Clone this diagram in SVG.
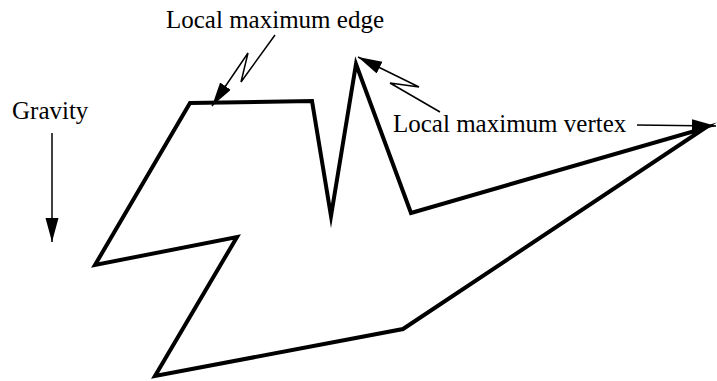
<svg xmlns="http://www.w3.org/2000/svg" width="717" height="381" viewBox="0 0 717 381">
<style>
.lbl{font-family:"Liberation Serif","Times New Roman",serif;font-size:25px;fill:#000}
.shape{fill:none;stroke:#000;stroke-width:4;stroke-linejoin:miter;stroke-miterlimit:10}
.arr{fill:none;stroke:#000;stroke-width:1.5}
</style>
<defs>
<marker id="ah" markerUnits="userSpaceOnUse" markerWidth="24" markerHeight="14" refX="24" refY="6.5" orient="auto">
<path d="M0,0 L24,6.5 L0,13 z" fill="#000"/>
</marker>
</defs>
<rect width="717" height="381" fill="#fff"/>
<g id="polygon">
<polygon class="shape" points="190,103 312,101 331,216 356,64 411,213 705,128 403,329 155,376 237,237 95,265"/>
</g>
<g id="labels">
<text id="gravity" class="lbl" x="12" y="119">Gravity</text>
<text id="edge-label" class="lbl" x="166" y="28">Local maximum edge</text>
<text id="vertex-label" class="lbl" x="393" y="132">Local maximum vertex</text>
</g>
<g id="connectors">
<line class="arr" x1="52" y1="133" x2="52" y2="242" marker-end="url(#ah)"/>
<polyline class="arr" points="275,35 241,82 248,53 212,106" marker-end="url(#ah)"/>
<polyline class="arr" points="440,112 390,83 419,87 358,57" marker-end="url(#ah)"/>
<line class="arr" x1="637" y1="125" x2="716" y2="126" marker-end="url(#ah)"/>
</g>
</svg>
